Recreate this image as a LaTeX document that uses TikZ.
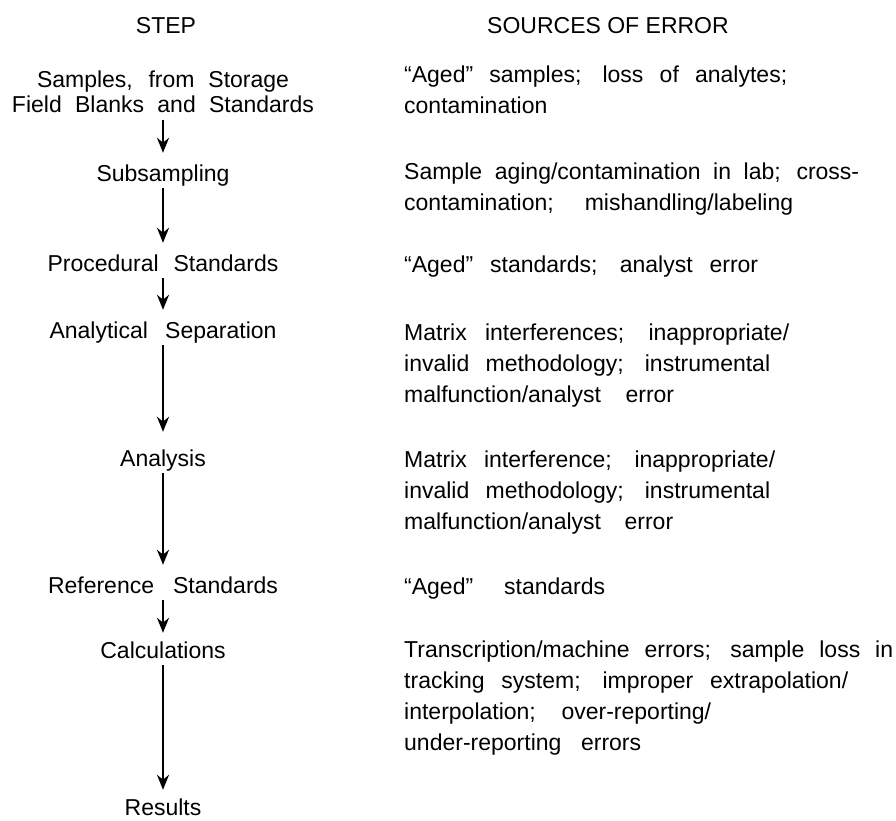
\documentclass[tikz,border=0pt]{standalone}
\usepackage{fontspec}
\setmainfont{Liberation Sans}
\usetikzlibrary{positioning,arrows.meta}
% one line, spaces stretched to a given width
\newcommand{\jline}[2]{\makebox[#1pt][s]{#2}}
\tikzset{
  headlabel/.style={inner sep=0pt, anchor=base, align=center, font=\fontsize{23}{25}\selectfont},
  steplabel/.style={inner sep=0pt, anchor=base, text height=17pt, text depth=0pt, font=\fontsize{23}{25}\selectfont},
  errtext/.style={inner sep=0pt, anchor=north west, align=left, font=\fontsize{23}{31}\selectfont},
  flow/.style={line width=2.2pt, -{Stealth[length=15pt, width=12pt]}, shorten <=7pt, shorten >=11pt}
}
\begin{document}
\begin{tikzpicture}[x=1pt, y=-1pt]
            \def\colx{163}
            \def\errx{404}
            \useasboundingbox (0,0) rectangle (896,820);

            \node (STEP) [headlabel] at (166,33) {STEP};
            \node (SRC) [headlabel] at (608,33) {SOURCES OF ERROR};

            % steps
            \node (samples) [headlabel, anchor=north] at (\colx,71) {\jline{252}{Samples, from Storage}\\ \jline{302}{Field Blanks and Standards}};
            \node (subsampling) [steplabel] at (\colx,181) {Subsampling};
            \node (procstd) [steplabel] at (\colx,271) {\jline{231}{Procedural Standards}};
            \node (separation) [steplabel] at (\colx,338) {\jline{227}{Analytical Separation}};
            \node (analysis) [steplabel] at (\colx,466) {Analysis};
            \node (refstd) [steplabel] at (\colx,593) {\jline{230}{Reference Standards}};
            \node (calc) [steplabel] at (\colx,658) {Calculations};
            \node (results) [steplabel] at (\colx,815) {Results};

            \draw [flow] (samples) -- (subsampling);
            \draw [flow] (subsampling) -- (procstd);
            \draw [flow] (procstd) -- (separation);
            \draw [flow, shorten >=17pt] (separation) -- (analysis);
            \draw [flow] (analysis) -- (refstd);
            \draw [flow, shorten >=8pt] (refstd) -- (calc);
            \draw [flow, shorten >=8pt] (calc) -- (results);

            % sources of error
            \node (err1) [errtext] at (\errx,66) {\jline{383}{“Aged” samples; loss of analytes;}\\ contamination};
            \node (err2) [errtext] at (\errx,163) {\jline{455}{Sample aging/contamination in lab; cross-}\\ \jline{389}{contamination; mishandling/labeling}};
            \node (err3) [errtext] at (\errx,256) {\jline{354}{“Aged” standards; analyst error}};
            \node (err4) [errtext] at (\errx,324) {\jline{385}{Matrix interferences; inappropriate/}\\ \jline{366}{invalid methodology; instrumental}\\ \jline{270}{malfunction/analyst error}};
            \node (err5) [errtext] at (\errx,451) {\jline{371}{Matrix interference; inappropriate/}\\ \jline{366}{invalid methodology; instrumental}\\ \jline{269}{malfunction/analyst error}};
            \node (err6) [errtext] at (\errx,578) {\jline{201}{“Aged” standards}};
            \node (err7) [errtext] at (\errx,641) {\jline{489}{Transcription/machine errors; sample loss in}\\ \jline{444}{tracking system; improper extrapolation/}\\ \jline{307}{interpolation; over-reporting/}\\ \jline{237}{under-reporting errors}};

        \end{tikzpicture}
\end{document}
